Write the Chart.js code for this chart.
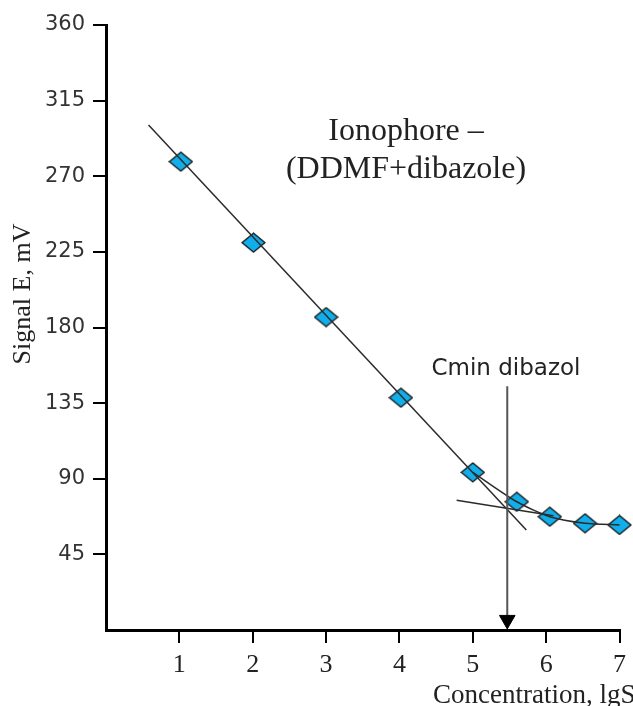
<!DOCTYPE html>
<html>
<head>
<meta charset="utf-8">
<script src="https://cdn.jsdelivr.net/npm/chart.js@4/dist/chart.umd.min.js"></script>
<style>
  html, body { margin: 0; padding: 0; background: #fff; }
  #wrap { width: 633px; height: 706px; }
</style>
</head>
<body>
<div id="wrap"><canvas id="signalChart" width="633" height="706"></canvas></div>
<script>
// measured points (lgS vs E, mV)
const concentration = [1.02, 2.01, 3.0, 4.02, 5.0, 5.6, 6.05, 6.53, 7.0];
const signal = [278.7, 230.5, 186.2, 138.2, 93.8, 76.3, 67.4, 63.5, 62.5];

// tangent lines used to find Cmin
const steepX = [0.58, 5.73];
const steepY = [300.5, 59.5];
const flatX = [4.78, 6.1];
const flatY = [77.2, 68.0];

// Cmin marker
const cminX = 5.47;
const arrowY = [145, 6];

const xTicks = [1, 2, 3, 4, 5, 6, 7];
const yTicks = [45, 90, 135, 180, 225, 270, 315, 360];

const serif = "'Liberation Serif', 'Times New Roman', serif";
const sans = "'DejaVu Sans', Verdana, sans-serif";

function pairs(xs, ys) {
    return xs.map((x, i) => ({ x: x, y: ys[i] }));
}

// slightly flattened diamond marker
function diamond() {
    const w = 25, h = 21;
    const cv = document.createElement("canvas");
    cv.width = w;
    cv.height = h;
    const c = cv.getContext("2d");
    c.beginPath();
    c.moveTo(w / 2, 1);
    c.lineTo(w - 1, h / 2);
    c.lineTo(w / 2, h - 1);
    c.lineTo(1, h / 2);
    c.closePath();
    c.fillStyle = "#12aeea";
    c.fill();
    c.lineWidth = 1.3;
    c.strokeStyle = "#111";
    c.stroke();
    return cv;
}

const annotations = {
    id: "annotations",
    afterDraw(chart) {
        const c = chart.ctx;
        c.save();
        c.fillStyle = "#222";
        c.textAlign = "center";
        c.textBaseline = "alphabetic";

        c.font = "32px " + serif;
        c.fillText("Ionophore \u2013", 406, 140);
        c.fillText("(DDMF+dibazole)", 406, 178);

        c.font = "23px " + sans;
        c.fillText("Cmin dibazol", 506, 375);

        c.font = "27px " + serif;
        c.textAlign = "left";
        c.fillText("Concentration, lgS", 433, 703);

        c.translate(30, 294);
        c.rotate(-Math.PI / 2);
        c.textAlign = "center";
        c.font = "26px " + serif;
        c.fillText("Signal E, mV", 0, 0);
        c.restore();
    }
};

const lineStyle = {
    type: "line",
    borderColor: "#2b2b2b",
    borderWidth: 1.5,
    pointRadius: 0,
    fill: false,
    order: 1
};

new Chart(document.getElementById("signalChart"), {
    type: "scatter",
    data: {
        datasets: [
            {
                label: "E",
                data: pairs(concentration, signal),
                showLine: false,
                pointStyle: diamond(),
                pointRadius: 12,
                clip: false,
                order: 3
            },
            Object.assign({}, lineStyle, {
                label: "curve",
                data: pairs(concentration.slice(4), signal.slice(4)),
                tension: 0.25,
                clip: false
            }),
            Object.assign({}, lineStyle, {
                label: "steep",
                data: pairs(steepX, steepY)
            }),
            Object.assign({}, lineStyle, {
                label: "flat",
                data: pairs(flatX, flatY)
            }),
            {
                type: "line",
                label: "Cmin",
                data: pairs([cminX, cminX], arrowY),
                borderColor: "#555",
                borderWidth: 2,
                pointStyle: "triangle",
                pointRotation: 180,
                pointRadius: [0, 9],
                pointBackgroundColor: "#000",
                pointBorderColor: "#000",
                pointBorderWidth: 1,
                fill: false,
                order: 0
            }
        ]
    },
    options: {
        responsive: false,
        animation: false,
        layout: { padding: { left: 0, right: 11, top: 25, bottom: 0 } },
        plugins: {
            legend: { display: false },
            tooltip: { enabled: false }
        },
        scales: {
            x: {
                type: "linear",
                min: 0,
                max: 7,
                afterBuildTicks(scale) {
                    scale.ticks = xTicks.map(v => ({ value: v }));
                },
                afterFit(scale) { scale.height = 76; },
                border: { display: true, color: "#000", width: 3 },
                grid: { drawOnChartArea: false, drawTicks: true, tickLength: 13, color: "#000", lineWidth: 2 },
                ticks: {
                    padding: 7,
                    color: "#222",
                    font: { family: serif, size: 26 },
                    maxRotation: 0
                }
            },
            y: {
                type: "linear",
                min: 0,
                max: 360,
                afterBuildTicks(scale) {
                    scale.ticks = yTicks.map(v => ({ value: v }));
                },
                afterFit(scale) { scale.width = 106; },
                border: { display: true, color: "#000", width: 3 },
                grid: { drawOnChartArea: false, drawTicks: true, tickLength: 13, color: "#000", lineWidth: 2 },
                ticks: {
                    padding: 8,
                    color: "#333",
                    font: { family: sans, size: 21 }
                }
            }
        }
    },
    plugins: [annotations]
});
</script>
</body>
</html>
